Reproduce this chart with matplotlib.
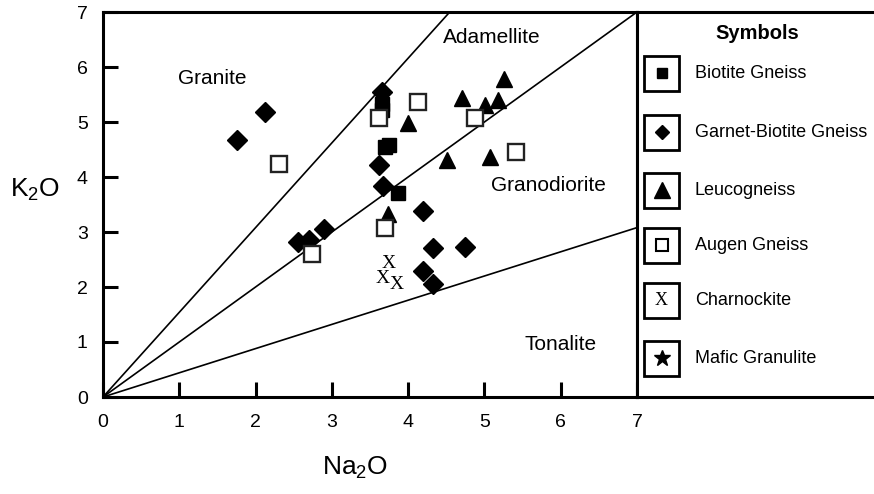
import numpy as np
import matplotlib
matplotlib.use("Agg")
import matplotlib.pyplot as plt
from matplotlib.patches import Rectangle

plt.rcParams['font.family'] = ['Liberation Sans', 'DejaVu Sans']
plt.rcParams['mathtext.default'] = 'regular'

# Data (Na2O, K2O)
biotite_na = [3.66, 3.66, 3.70, 3.75, 3.87]
biotite_k = [5.33, 5.22, 4.55, 4.58, 3.71]

garnet_na = [1.76, 2.13, 3.66, 3.62, 3.67, 2.56, 2.70, 2.90, 4.20, 4.33, 4.75, 4.19, 4.33]
garnet_k = [4.67, 5.18, 5.55, 4.22, 3.84, 2.82, 2.85, 3.05, 3.38, 2.71, 2.73, 2.29, 2.05]

leuco_na = [4.00, 4.71, 5.26, 5.01, 5.18, 4.51, 5.07, 3.73]
leuco_k = [4.98, 5.44, 5.78, 5.31, 5.40, 4.31, 4.36, 3.33]

augen_na = [2.31, 2.74, 3.62, 4.13, 4.88, 5.41, 3.70]
augen_k = [4.24, 2.60, 5.07, 5.36, 5.07, 4.45, 3.07]

charno_na = [3.75, 3.66, 3.85]
charno_k = [2.42, 2.15, 2.05]

# field boundaries: K2O = slope * Na2O
boundary_slopes = [1.54, 1.0, 0.44]

field_names = ["Granite", "Adamellite", "Granodiorite", "Tonalite"]
field_x = [1.43, 5.1, 5.84, 6.0]
field_y = [5.8, 6.53, 3.84, 0.95]

legend_labels = ["Biotite Gneiss", "Garnet-Biotite Gneiss", "Leucogneiss",
                 "Augen Gneiss", "Charnockite", "Mafic Granulite"]

W, H = 874, 494
fig = plt.figure(figsize=(W / 100, H / 100), dpi=100)
ax = fig.add_axes([103 / W, 1 - 397 / H, 534 / W, 385 / H])

xmax, ymax = 7, 7
ax.set_xlim(0, xmax)
ax.set_ylim(0, ymax)

# boundary lines from origin
for s in boundary_slopes:
    xe = min(xmax, ymax / s)
    ax.plot([0, xe], [0, s * xe], color='black', lw=1.2, zorder=1)

ax.plot(biotite_na, biotite_k, ls='none', marker='s', ms=10.5, mfc='black',
        mec='black', mew=1, zorder=3)
ax.plot(garnet_na, garnet_k, ls='none', marker='D', ms=10.5, mfc='black',
        mec='black', mew=1, zorder=4)
ax.plot(leuco_na, leuco_k, ls='none', marker='^', ms=12, mfc='black',
        mec='black', mew=1, zorder=5)
ax.plot(augen_na, augen_k, ls='none', marker='s', ms=11, mfc='white',
        mec='#222222', mew=1.7, zorder=6)
for xv, yv in zip(charno_na, charno_k):
    ax.text(xv, yv, "X", family='Liberation Serif', fontsize=14,
            ha='center', va='center', zorder=7)

for name, xv, yv in zip(field_names, field_x, field_y):
    ax.text(xv, yv, name, fontsize=15, ha='center', va='center')

for sp in ax.spines.values():
    sp.set_linewidth(2.2)
ax.set_xticks(range(0, 8))
ax.set_yticks(range(0, 8))
ax.tick_params(direction='in', length=11, width=2.2, labelsize=14)
ax.tick_params(axis='x', pad=12)
ax.tick_params(axis='y', pad=11)

fig.text(35 / W, 1 - 190 / H, r'K$_2$O', fontsize=19, ha='center', va='center')
fig.text(355 / W, 1 - 468 / H, r'Na$_2$O', fontsize=19, ha='center', va='center')

# legend panel (pixel units inside the box)
lg = fig.add_axes([637 / W, 1 - 397 / H, 237 / W, 385 / H])
lg.set_xlim(0, 237)
lg.set_ylim(385, 0)
lg.set_xticks([])
lg.set_yticks([])
for k, sp in lg.spines.items():
    sp.set_linewidth(2.2)
lg.spines['right'].set_visible(False)

lg.text(120, 21, "Symbols", fontsize=14.5, fontweight='bold', ha='center', va='center')
icon_y = [61, 120, 178, 233, 288, 346]
for i, (lab, yc) in enumerate(zip(legend_labels, icon_y)):
    lg.add_patch(Rectangle((7, yc - 17.5), 35, 35, fill=False, lw=2.0, ec='black'))
    lg.text(58, yc, lab, fontsize=13, ha='left', va='center')
lg.plot(24.5, icon_y[0], marker='s', ms=7, color='black')
lg.plot(24.5, icon_y[1], marker='D', ms=7, color='black')
lg.plot(24.5, icon_y[2], marker='^', ms=12, color='black')
lg.plot(24.5, icon_y[3], marker='s', ms=8, mfc='white', mec='black', mew=1.5)
lg.text(24.5, icon_y[4], "X", family='Liberation Serif', fontsize=13,
        ha='center', va='center')
lg.plot(24.5, icon_y[5], marker='*', ms=12, color='black')

fig.savefig("out.png", dpi=100)
